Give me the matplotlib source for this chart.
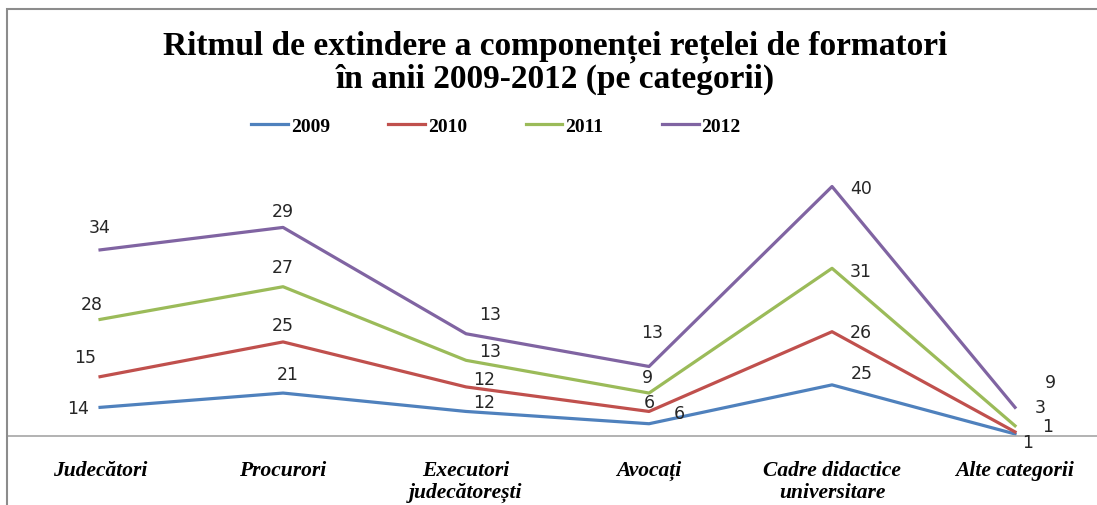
import matplotlib.pyplot as plt
from matplotlib.patches import Rectangle

categories = ["Judecători", "Procurori", "Executori\njudecătorești", "Avocați",
              "Cadre didactice\nuniversitare", "Alte categorii"]
years = ["2009", "2010", "2011", "2012"]
v2009 = [14, 21, 12, 6, 25, 1]
v2010 = [15, 25, 12, 6, 26, 1]
v2011 = [28, 27, 13, 9, 31, 3]
v2012 = [34, 29, 13, 13, 40, 9]
series = [v2009, v2010, v2011, v2012]

colors = ["#4F81BD", "#C0504D", "#9BBB59", "#8064A2"]

# label offsets in pixels (hand placed, like in the original sheet)
offsets = [
    [(-22, -1), (5, 19), (18, 9), (30, 11), (30, 12), (13, -8)],
    [(-15, 20), (0, 17), (18, 8), (0, 9), (29, 0), (33, 6)],
    [(-8, 15), (0, 20), (24, 9), (-2, 16), (29, -3), (25, 19)],
    [(0, 23), (0, 16), (24, 20), (3, 34), (29, -1), (35, 25)],
]

W, H = 1097, 506
fig = plt.figure(figsize=(W / 100, H / 100), dpi=100)

# chart frame (cut off on right and bottom in the screenshot)
fig.patches.append(Rectangle((7 / W, -0.1), 1.2, 1 - 10 / H + 0.1, transform=fig.transFigure,
                             fill=False, edgecolor="#8c8c8c", linewidth=1.5))

ax = fig.add_axes([8 / W, (H - 437) / H, 1089 / W, (437 - 150) / H])
x = list(range(len(categories)))

cum = [0] * len(categories)
for vals, col, yr, offs in zip(series, colors, years, offsets):
    cum = [c + v for c, v in zip(cum, vals)]
    ax.plot(x, cum, color=col, linewidth=2.3, label=yr, solid_joinstyle="round")
    for xi, yi, v, (dx, dy) in zip(x, cum, vals, offs):
        ax.annotate(str(v), (xi, yi), xytext=(dx, dy), textcoords="offset pixels",
                    ha="center", va="center", fontsize=12.5, color="#262626",
                    family="DejaVu Sans")

ax.set_xlim(-0.503, 5.448)
ax.set_ylim(0, (437 - 150) / 2.045)
for s in ["top", "right", "left"]:
    ax.spines[s].set_visible(False)
ax.spines["bottom"].set_color("#a6a6a6")
ax.spines["bottom"].set_linewidth(1.2)
ax.set_yticks([])
ax.set_xticks(x)
ax.set_xticklabels(categories, family="Liberation Serif", fontweight="bold",
                   style="italic", fontsize=15.5, linespacing=1.15)
ax.tick_params(axis="x", length=0, pad=17)
ax.patch.set_alpha(0)

fig.text(0.506, 1 - 63 / H, "Ritmul de extindere a componenței rețelei de formatori\n"
         "în anii 2009-2012 (pe categorii)", ha="center", va="center",
         family="Liberation Serif", fontweight="bold", fontsize=24, linespacing=1.05)

fig.legend(loc="center", bbox_to_anchor=(0.452, 1 - 127 / H), ncol=4, frameon=False,
           prop={"family": "Liberation Serif", "weight": "bold", "size": 14},
           handlelength=1.9, handletextpad=0.15, columnspacing=3.0)

fig.savefig("out.png", dpi=100)
